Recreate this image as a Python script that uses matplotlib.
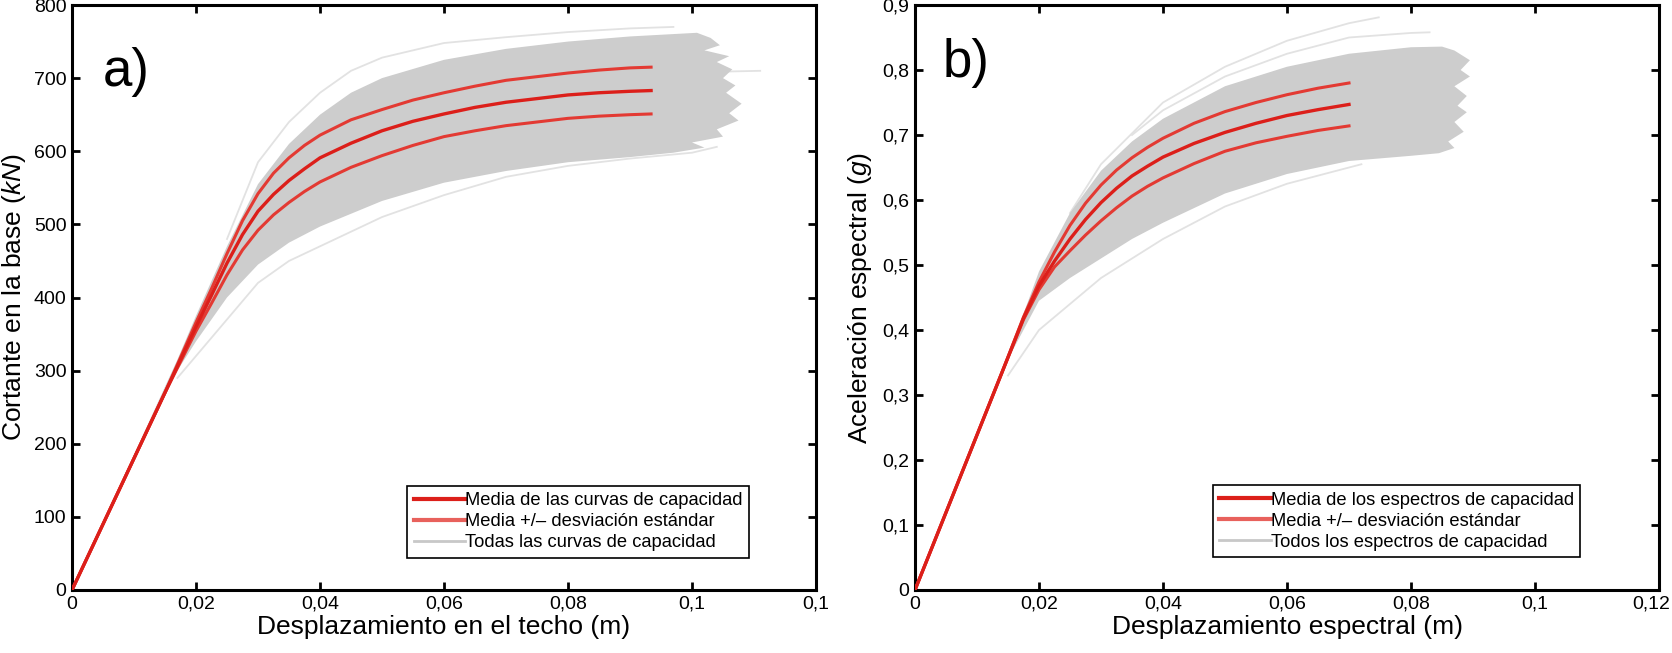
import numpy as np
import matplotlib
matplotlib.use("Agg")
import matplotlib.pyplot as plt
from matplotlib.lines import Line2D
from matplotlib.transforms import ScaledTranslation

plt.rcParams["font.family"] = ["Liberation Sans", "DejaVu Sans"]
plt.rcParams["mathtext.fontset"] = "custom"
plt.rcParams["mathtext.rm"] = "Liberation Sans"
plt.rcParams["mathtext.it"] = "Liberation Sans:italic"

# ---- panel a: capacity curves (base shear kN vs roof displacement m) ----
a_x = [0.0, 0.015, 0.02, 0.0225, 0.025, 0.0275, 0.03, 0.0325, 0.035, 0.0375, 0.04,
       0.045, 0.05, 0.055, 0.06, 0.065, 0.07, 0.075, 0.08, 0.085, 0.09, 0.0934]
a_mean = [0, 270, 360, 403, 447, 486, 518, 541, 560, 576, 591,
          611, 628, 641, 651, 660, 667, 672, 677, 680, 682, 683]
a_upper = [0, 270, 366, 412, 460, 505, 542, 570, 591, 608, 622,
           643, 657, 670, 680, 689, 697, 702, 707, 711, 714, 715]
a_lower = [0, 270, 354, 392, 431, 465, 492, 513, 530, 545, 558,
           578, 594, 608, 620, 628, 635, 640, 645, 648, 650, 651]

# envelope of the dense grey band (upper edge, ragged right end, lower edge)
a_band_x = [0.0, 0.017, 0.02, 0.025, 0.03, 0.035, 0.04, 0.045, 0.05, 0.06, 0.07, 0.08, 0.09, 0.1008,
            0.103, 0.1045, 0.102, 0.106, 0.104, 0.1065, 0.105, 0.107, 0.1055, 0.108, 0.106,
            0.1075, 0.104, 0.105, 0.1, 0.102, 0.097,
            0.09, 0.08, 0.07, 0.06, 0.05, 0.04, 0.035, 0.03, 0.025, 0.02, 0.017]
a_band_y = [0, 315, 375, 470, 555, 610, 650, 680, 700, 725, 740, 750, 757, 762,
            755, 745, 738, 730, 722, 712, 700, 690, 680, 665, 652,
            642, 630, 620, 612, 605, 598,
            592, 585, 573, 557, 532, 497, 475, 445, 400, 340, 300]

# a few sparse outer curves
a_top_x = [0.025, 0.03, 0.035, 0.04, 0.045, 0.05, 0.06, 0.07, 0.08, 0.09, 0.097]
a_top_y = [480, 585, 640, 680, 710, 728, 748, 756, 763, 768, 770]
a_long_x = [0.06, 0.07, 0.08, 0.09, 0.1, 0.111]
a_long_y = [640, 668, 690, 702, 708, 710]
a_low_x = [0.017, 0.02, 0.03, 0.035, 0.04, 0.05, 0.06, 0.07, 0.08, 0.09, 0.1, 0.104]
a_low_y = [290, 320, 420, 450, 470, 510, 540, 565, 580, 590, 598, 606]

# ---- panel b: capacity spectra (Sa g vs Sd m) ----
b_x = [0.0, 0.014, 0.0175, 0.02, 0.0225, 0.025, 0.0275, 0.03, 0.0325, 0.035, 0.0375, 0.04,
       0.045, 0.05, 0.055, 0.06, 0.065, 0.07]
b_mean = [0, 0.334, 0.418, 0.468, 0.506, 0.540, 0.570, 0.596, 0.618, 0.637, 0.652, 0.666,
          0.687, 0.704, 0.718, 0.730, 0.739, 0.747]
b_upper = [0, 0.334, 0.420, 0.474, 0.520, 0.561, 0.595, 0.623, 0.646, 0.665, 0.681, 0.695,
           0.718, 0.736, 0.750, 0.762, 0.772, 0.780]
b_lower = [0, 0.334, 0.416, 0.462, 0.497, 0.522, 0.546, 0.568, 0.588, 0.606, 0.621, 0.634,
           0.656, 0.675, 0.688, 0.698, 0.707, 0.714]

b_band_x = [0.0, 0.015, 0.02, 0.025, 0.03, 0.035, 0.04, 0.05, 0.06, 0.07, 0.08, 0.085,
            0.087, 0.0895, 0.088, 0.0895, 0.087, 0.089, 0.0875, 0.089, 0.087, 0.0885, 0.086,
            0.087, 0.0845,
            0.08, 0.07, 0.06, 0.05, 0.04, 0.035, 0.03, 0.025, 0.02, 0.015]
b_band_y = [0, 0.36, 0.49, 0.58, 0.645, 0.69, 0.725, 0.775, 0.805, 0.825, 0.835, 0.836,
            0.83, 0.815, 0.80, 0.79, 0.775, 0.76, 0.745, 0.735, 0.72, 0.705, 0.69,
            0.68, 0.672,
            0.668, 0.66, 0.64, 0.61, 0.565, 0.54, 0.51, 0.48, 0.445, 0.355]

b_top_x = [0.025, 0.03, 0.04, 0.05, 0.06, 0.07, 0.0748]
b_top_y = [0.58, 0.655, 0.75, 0.805, 0.845, 0.872, 0.881]
b_top2_x = [0.035, 0.04, 0.05, 0.06, 0.07, 0.08, 0.083]
b_top2_y = [0.70, 0.738, 0.79, 0.825, 0.85, 0.857, 0.858]
b_low_x = [0.015, 0.02, 0.03, 0.04, 0.05, 0.06, 0.07, 0.072]
b_low_y = [0.33, 0.40, 0.48, 0.54, 0.59, 0.625, 0.65, 0.655]

a_xticks = [0, 0.02, 0.04, 0.06, 0.08, 0.1, 0.12]
a_xlabels = ["0", "0,02", "0,04", "0,06", "0,08", "0,1", "0,1"]
a_yticks = [0, 100, 200, 300, 400, 500, 600, 700, 800]
b_xticks = [0, 0.02, 0.04, 0.06, 0.08, 0.1, 0.12]
b_xlabels = ["0", "0,02", "0,04", "0,06", "0,08", "0,1", "0,12"]
b_yticks = [0, 0.1, 0.2, 0.3, 0.4, 0.5, 0.6, 0.7, 0.8, 0.9]
b_ylabels = ["0", "0,1", "0,2", "0,3", "0,4", "0,5", "0,6", "0,7", "0,8", "0,9"]

RED = "#dc1f1a"
RED_STD = "#e33a33"
GREY = "#cdcdcd"
FAINT = "#e2e2e2"


def draw_panel(ax, bx, by, faint, xs, mean, upper, lower):
    ax.fill(bx, by, color=GREY, lw=0, zorder=1)
    for fx, fy in faint:
        ax.plot(fx, fy, color=FAINT, lw=1.3, zorder=0.9)
    ax.plot(xs, upper, color=RED_STD, lw=2.2, zorder=3, solid_joinstyle="round")
    ax.plot(xs, lower, color=RED_STD, lw=2.2, zorder=3, solid_joinstyle="round")
    ax.plot(xs, mean, color=RED, lw=2.4, zorder=4, solid_joinstyle="round")
    for s in ax.spines.values():
        s.set_linewidth(2.2)
    ax.tick_params(direction="in", length=6, width=2, top=True, right=True,
                   labelsize=14, pad=4)


def add_legend(ax, labels, anchor):
    handles = [Line2D([], [], color=RED, lw=3),
               Line2D([], [], color=RED_STD, lw=3, alpha=0.8),
               Line2D([], [], color="#c8c8c8", lw=2)]
    leg = ax.legend(handles, labels, loc="lower right", bbox_to_anchor=anchor,
                    fontsize=13.2, handlelength=2.8, handletextpad=0.0,
                    labelspacing=0.22, borderpad=0.35, borderaxespad=0,
                    fancybox=False, framealpha=1, edgecolor="black")
    leg.get_frame().set_linewidth(1.2)


fig = plt.figure(figsize=(16.72, 6.53), dpi=100)
ax1 = fig.add_axes([72 / 1672, 63 / 653, 744 / 1672, 585 / 653])
ax2 = fig.add_axes([915 / 1672, 63 / 653, 744 / 1672, 585 / 653])

draw_panel(ax1, a_band_x, a_band_y,
           [(a_top_x, a_top_y), (a_long_x, a_long_y), (a_low_x, a_low_y)],
           a_x, a_mean, a_upper, a_lower)
ax1.set_xlim(0, 0.12)
ax1.set_ylim(0, 800)
ax1.set_xticks(a_xticks)
ax1.set_xticklabels(a_xlabels)
ax1.set_yticks(a_yticks)
ax1.set_yticklabels([str(v) for v in a_yticks])
ax1.set_xlabel("Desplazamiento en el techo (m)", fontsize=19, labelpad=2)
ax1.set_ylabel("Cortante en la base ($\\mathit{kN}$)", fontsize=19, labelpad=4)
ax1.text(0.005, 708, "a)", fontsize=38, va="center", ha="left")
add_legend(ax1, ["Media de las curvas de capacidad",
                 "Media +/\u2013 desviación estándar",
                 "Todas las curvas de capacidad"], (0.91, 0.055))

draw_panel(ax2, b_band_x, b_band_y,
           [(b_top_x, b_top_y), (b_top2_x, b_top2_y), (b_low_x, b_low_y)],
           b_x, b_mean, b_upper, b_lower)
ax2.set_xlim(0, 0.12)
ax2.set_ylim(0, 0.9)
ax2.set_xticks(b_xticks)
ax2.set_xticklabels(b_xlabels)
ax2.set_yticks(b_yticks)
ax2.set_yticklabels(b_ylabels)
ax2.set_xlabel("Desplazamiento espectral (m)", fontsize=19, labelpad=2)
ax2.set_ylabel("Aceleración espectral ($\\mathit{g}$)", fontsize=19, labelpad=6)
ax2.text(0.0045, 0.81, "b)", fontsize=38, va="center", ha="left")
add_legend(ax2, ["Media de los espectros de capacidad",
                 "Media +/\u2013 desviación estándar",
                 "Todos los espectros de capacidad"], (0.894, 0.056))

# last tick label sits on the figure edge; nudge it inside
last = ax2.get_xticklabels()[-1]
last.set_transform(last.get_transform() + ScaledTranslation(-0.08, 0, fig.dpi_scale_trans))

fig.savefig("out.png", dpi=100)
